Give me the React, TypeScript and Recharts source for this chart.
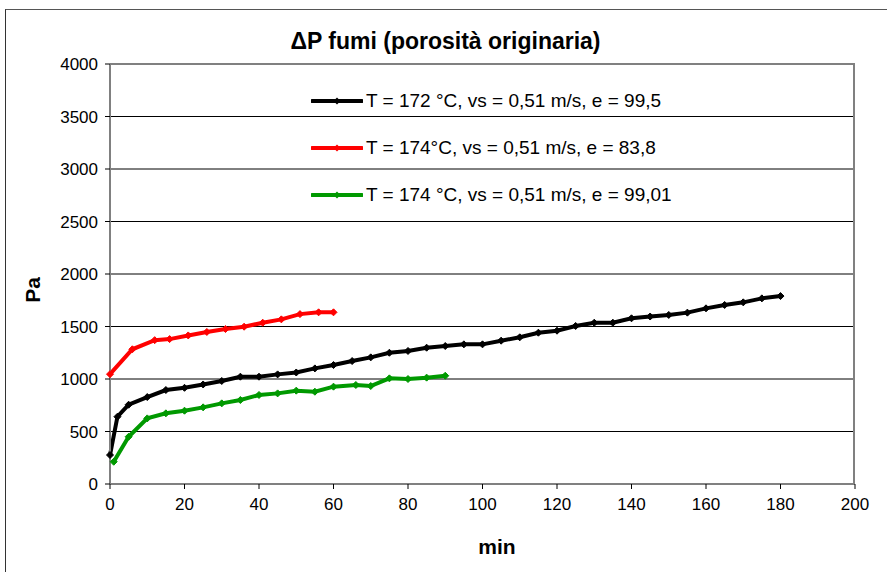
import React from 'react';
import { LineChart, Line, XAxis, YAxis, CartesianGrid } from 'recharts';

// minutes / Pa
const BLACK_MIN = [0, 2, 5, 10, 15, 20, 25, 30, 35, 40, 45, 50, 55, 60, 65, 70, 75, 80, 85, 90, 95, 100, 105, 110, 115, 120, 125, 130, 135, 140, 145, 150, 155, 160, 165, 170, 175, 180];
const BLACK_PA = [276, 641, 755, 828, 895, 916, 948, 981, 1022, 1022, 1044, 1062, 1101, 1133, 1171, 1206, 1250, 1267, 1298, 1314, 1330, 1330, 1365, 1397, 1441, 1460, 1505, 1536, 1536, 1578, 1595, 1610, 1632, 1673, 1705, 1730, 1768, 1790];

const RED_MIN = [0, 6, 12, 16, 21, 26, 31, 36, 41, 46, 51, 56, 60];
const RED_PA = [1046, 1283, 1370, 1380, 1415, 1448, 1476, 1498, 1536, 1568, 1618, 1635, 1635];

const GREEN_MIN = [1, 5, 10, 15, 20, 25, 30, 35, 40, 45, 50, 55, 60, 66, 70, 75, 80, 85, 90];
const GREEN_PA = [212, 450, 625, 673, 698, 730, 768, 800, 848, 863, 889, 879, 927, 943, 933, 1006, 1000, 1013, 1031];

const X_TICKS = [0, 20, 40, 60, 80, 100, 120, 140, 160, 180, 200];
const Y_TICKS = [0, 500, 1000, 1500, 2000, 2500, 3000, 3500, 4000];

const SERIES = [
  { name: 'T = 172 °C, vs = 0,51 m/s, e = 99,5', color: '#000000', xs: BLACK_MIN, ys: BLACK_PA },
  { name: 'T = 174°C, vs = 0,51 m/s, e = 83,8', color: '#ff0000', xs: RED_MIN, ys: RED_PA },
  { name: 'T = 174 °C, vs = 0,51 m/s, e = 99,01', color: '#009900', xs: GREEN_MIN, ys: GREEN_PA },
];

const FONT = 'Arial, "Liberation Sans", sans-serif';

const toRows = (xs: number[], ys: number[]) => xs.map((m, i) => ({ min: m, pa: ys[i] }));

const Diamond = (props: any) => {
  const { cx, cy, stroke } = props;
  if (cx == null || cy == null) return null;
  const r = 3.5;
  return <path d={`M${cx},${cy - r}L${cx + r},${cy}L${cx},${cy + r}L${cx - r},${cy}Z`} fill={stroke} stroke={stroke} strokeWidth={1} />;
};

const LegendSample = ({ color }: { color: string }) => (
  <svg width={52} height={10} style={{ display: 'block' }}>
    <line x1={1} y1={5} x2={51} y2={5} stroke={color} strokeWidth={4} strokeLinecap="round" />
    <path d="M26,1.5L29.5,5L26,8.5L22.5,5Z" fill={color} />
  </svg>
);

export default function App() {
  return (
    <div style={{ position: 'absolute', left: 0, top: 0, width: 887, height: 572, overflow: 'hidden', background: '#fff', fontFamily: FONT }}>
      {/* outer chart frame, only top and left edges show */}
      <div style={{ position: 'absolute', left: 5, top: 9, width: 900, height: 600, borderLeft: '1px solid #333', borderTop: '1px solid #555' }} />

      <div style={{ position: 'absolute', left: 0, top: 0 }}>
        <LineChart width={887} height={572} margin={{ top: 64, right: 32, bottom: 58, left: 50 }}>
          <CartesianGrid horizontal vertical={false} stroke="#000" strokeWidth={1} />
          <XAxis
            type="number"
            dataKey="min"
            domain={[0, 200]}
            ticks={X_TICKS}
            allowDuplicatedCategory={false}
            height={30}
            axisLine={{ stroke: '#808080', strokeWidth: 2 }}
            tickLine={{ stroke: '#000' }}
            tickSize={5}
            tickMargin={9}
            tick={{ fill: '#000', fontSize: 17, fontFamily: FONT }}
          />
          <YAxis
            type="number"
            dataKey="pa"
            domain={[0, 4000]}
            ticks={Y_TICKS}
            width={60}
            axisLine={{ stroke: '#808080', strokeWidth: 2 }}
            tickLine={{ stroke: '#000' }}
            tickSize={5}
            tickMargin={7}
            tick={{ fill: '#000', fontSize: 17, fontFamily: FONT }}
          />
          {SERIES.map((s) => (
            <Line
              key={s.name}
              data={toRows(s.xs, s.ys)}
              dataKey="pa"
              name={s.name}
              type="linear"
              stroke={s.color}
              strokeWidth={4}
              dot={<Diamond />}
              activeDot={false}
              isAnimationActive={false}
            />
          ))}
        </LineChart>
      </div>

      {/* right and top plot border */}
      <div style={{ position: 'absolute', left: 110, top: 63, width: 745, height: 421, borderTop: '2px solid #808080', borderRight: '2px solid #808080', boxSizing: 'border-box', pointerEvents: 'none' }} />

      <div style={{ position: 'absolute', left: 0, width: 891, top: 27, textAlign: 'center', fontSize: 23, fontWeight: 'bold', lineHeight: '28px' }}>
        ΔP fumi (porosità originaria)
      </div>

      <div style={{ position: 'absolute', left: 20, top: 290, transform: 'translate(0,-50%) rotate(-90deg)', fontSize: 21, fontWeight: 'bold' }}>Pa</div>

      <div style={{ position: 'absolute', left: 0, width: 994, top: 535, textAlign: 'center', fontSize: 21, fontWeight: 'bold' }}>min</div>

      <div style={{ position: 'absolute', left: 311, top: 88 }}>
        {SERIES.map((s) => (
          <div key={s.name} style={{ display: 'flex', alignItems: 'center', height: 26, marginBottom: 21, fontSize: 19, color: '#000' }}>
            <LegendSample color={s.color} />
            <span style={{ marginLeft: 3, whiteSpace: 'nowrap' }}>{s.name}</span>
          </div>
        ))}
      </div>
    </div>
  );
}
